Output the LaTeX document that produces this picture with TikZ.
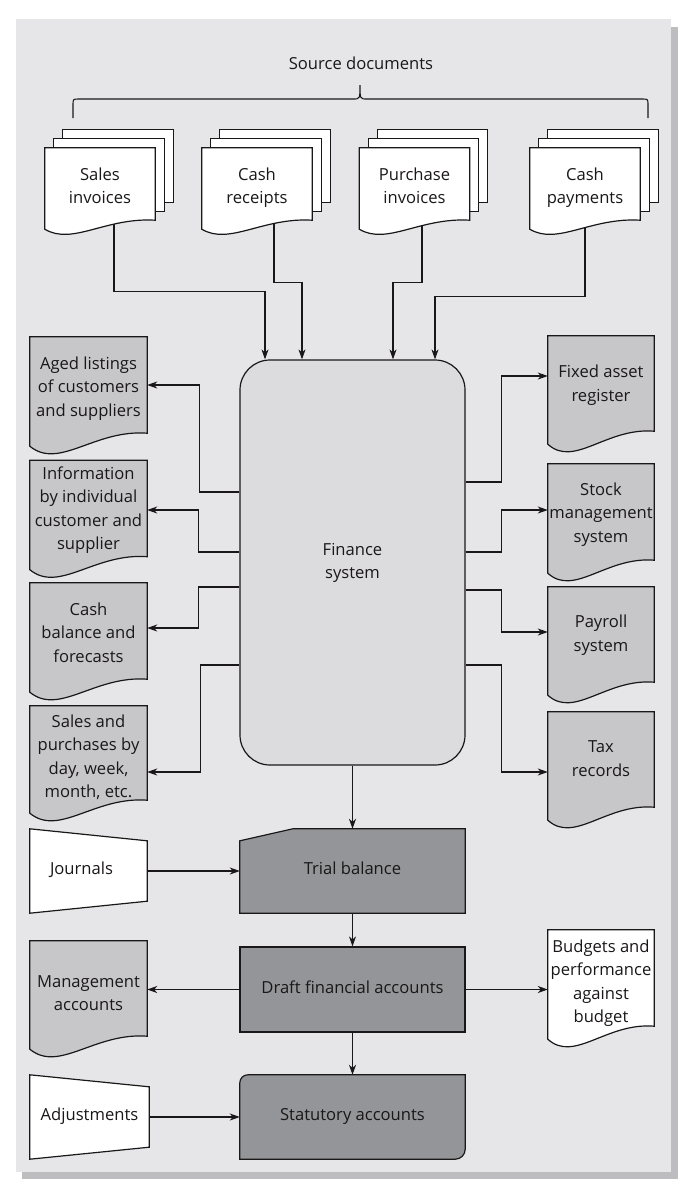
\documentclass[tikz,border=0pt]{standalone}
\usepackage{fontspec}
\setmainfont{Open Sans}
\usetikzlibrary{positioning, calc, arrows.meta, backgrounds}
\definecolor{Ink}{HTML}{1A1718}
\definecolor{PanelGrey}{HTML}{E6E6E8}
\definecolor{ShadowGrey}{HTML}{BDBDBF}
\definecolor{FinGrey}{HTML}{DCDCDE}
\definecolor{DocGrey}{HTML}{C7C7C9}
\definecolor{DarkGrey}{HTML}{949598}

% lines of a label, set a little lower than the box centre
\newcommand{\doctext}[2][3pt]{\raisebox{-#1}[\height][\depth]{\begin{tabular}{@{}c@{}}#2\end{tabular}}}

\tikzset{
  lbl/.style={font=\fontsize{16.6}{23.5}\selectfont, text=Ink, align=center, inner sep=0pt},
  srcdoc/.style={lbl, minimum width=110pt, minimum height=72pt},
  outdoc/.style={lbl, minimum width=117pt, minimum height=96pt},
  rdoc/.style={outdoc, minimum width=106pt},
  procbox/.style={lbl, minimum width=225pt, minimum height=84pt},
  outline/.style={draw=Ink, line width=1.2pt},
  wire/.style={draw=Ink, line width=1.1pt},
  arr/.style={wire, -{Stealth[length=10pt, width=7pt, inset=3pt]}},
}

\begin{document}
\begin{tikzpicture}[x=1pt, y=-1pt]
\useasboundingbox (0,0) rectangle (690,1192);

% source documents
\node[lbl] (srclabel) at (361,63) {Source documents};
\node[srcdoc] (sales) at (100,184) {\doctext[3.5pt]{Sales\\invoices}};
\node[srcdoc] (cashrec) at (257,184) {\doctext[3.5pt]{Cash\\receipts}};
\node[srcdoc] (purinv) at (414.5,184) {\doctext[3.5pt]{Purchase\\invoices}};
\node[srcdoc] (cashpay) at (585,184) {\doctext[3.5pt]{Cash\\payments}};

% main system
\node[lbl, draw=Ink, line width=1.2pt, fill=FinGrey, rounded corners=30pt,
      minimum width=225pt, minimum height=405pt] (fin) at (352.5,562.5) {\doctext[0pt]{Finance\\system}};

% reports on the left
\node[outdoc] (aged) at (88.5,385) {\doctext{Aged listings\\of customers\\and suppliers}};
\node[outdoc] (info) at (88.5,508.5) {\doctext[1.5pt]{Information\\by individual\\customer and\\supplier}};
\node[outdoc] (cashbal) at (88.5,631) {\doctext{Cash\\balance and\\forecasts}};
\node[outdoc, minimum height=94pt] (salespur) at (88.5,753) {\doctext[5pt]{Sales and\\purchases by\\day, week,\\month, etc.}};

% reports on the right
\node[rdoc, minimum height=95pt] (fixed) at (601,383.5) {\doctext[1.5pt]{Fixed asset\\register}};
\node[rdoc] (stock) at (601,512) {\doctext[2pt]{Stock\\management\\system}};
\node[rdoc, minimum height=95pt] (payroll) at (601,634.5) {\doctext[0.5pt]{Payroll\\system}};
\node[rdoc, minimum height=95pt] (tax) at (601,759.5) {\doctext[0.5pt]{Tax\\records}};

% accounts
\node[procbox] (trial) at (352.5,871) {\doctext[-1pt]{Trial balance}};
\node[procbox, draw=Ink, line width=1.2pt, fill=DarkGrey, minimum height=85pt] (draft) at (352.5,989.5) {\doctext[-1pt]{Draft financial accounts}};
\node[procbox] (stat) at (352.5,1117) {\doctext[-1pt]{Statutory accounts}};
\node[lbl, minimum width=117pt, minimum height=84pt] (journals) at (88.5,871) {\doctext[-1pt]{\hspace*{-14pt}Journals}};
\node[lbl, minimum width=119pt, minimum height=84pt] (adjust) at (89.5,1117) {\doctext[-1pt]{Adjustments}};
\node[outdoc, minimum height=95pt] (mgmt) at (88.5,988.5) {\doctext[6pt]{Management\\accounts}};
\node[rdoc] (budgets) at (601,978) {\doctext[5pt]{Budgets and\\performance\\against\\budget}};

\begin{scope}[on background layer]
  \fill[white] (0,0) rectangle (690,1192);
  \fill[ShadowGrey] (22,27) rectangle (678,1179);
  \fill[PanelGrey] (16,19) rectangle (671,1172);

  % brace
  \draw[wire] (73,118) -- (73,105) .. controls (73,99) .. (79,99) -- (353,99)
    .. controls (360,99) .. (360,85) .. controls (360,99) .. (367,99) -- (642,99)
    .. controls (648,99) .. (648,105) -- (648,118);

  % inputs
  \draw[arr] ([xshift=14pt]sales.south) -- ++(0,71) -| ([xshift=-87.5pt]fin.north);
  \draw[arr] ([xshift=17pt]cashrec.south) -- ++(0,62) -| ([xshift=-50.5pt]fin.north);
  \draw[arr] ([xshift=7.5pt]purinv.south) -- ++(0,62) -| ([xshift=40.5pt]fin.north);
  \draw[arr] (cashpay.south) -- ++(0,76) -| ([xshift=82.5pt]fin.north);

  % outputs
  \draw[arr] ([yshift=70.5pt]fin.west) -- ++(-40,0) |- (aged.east);
  \draw[arr] ([yshift=10.5pt]fin.west) -- ++(-41,0) |- ([yshift=-1.5pt]info.east);
  \draw[arr] ([yshift=-24.5pt]fin.west) -- ++(-41,0) |- ([yshift=3pt]cashbal.east);
  \draw[arr] ([yshift=-102.5pt]fin.west) -- ++(-39,0) |- ([yshift=-19pt]salespur.east);
  \draw[arr] ([yshift=80.5pt]fin.east) -- ++(36,0) |- ([yshift=7.5pt]fixed.west);
  \draw[arr] ([yshift=10.5pt]fin.east) -- ++(36,0) |- ([yshift=2pt]stock.west);
  \draw[arr] ([yshift=-27.5pt]fin.east) -- ++(36,0) |- ([yshift=2.5pt]payroll.west);
  \draw[arr] ([yshift=-102.5pt]fin.east) -- ++(36,0) |- ([yshift=-12.5pt]tax.west);

  \draw[arr] (fin.south) -- (trial.north);
  \draw[arr] (journals.east) -- (trial.west);
  \draw[arr] (trial.south) -- (draft.north);
  \draw[arr] (draft.west) -- (draft.west -| mgmt.east);
  \draw[arr] (draft.east) -- (draft.east -| budgets.west);
  \draw[arr] (draft.south) -- (stat.north);
  \draw[arr] (adjust.east) -- (stat.west);

  % stacked source documents
  \foreach \n in {sales, cashrec, purinv, cashpay} {
    \foreach \o in {18, 9}
      \draw[outline, fill=white] ([shift={(\o,-\o)}]\n.north west) rectangle ([shift={(\o,-\o)}]\n.south east);
    \draw[outline, fill=white] (\n.south east) -- (\n.north east) -- (\n.north west) -- ($(\n.south west)+(0,9)$)
      .. controls ($(\n.south west)!0.25!(\n.south east)+(0,25.5)$) and ($(\n.south west)!0.55!(\n.south east)+(0,-3)$) .. (\n.south east) -- cycle;
  }

  % report documents
  \foreach \n/\f in {aged/DocGrey, info/DocGrey, cashbal/DocGrey, salespur/DocGrey, fixed/DocGrey,
                     stock/DocGrey, payroll/DocGrey, tax/DocGrey, mgmt/DocGrey, budgets/white}
    \draw[outline, fill=\f] (\n.south east) -- (\n.north east) -- (\n.north west) -- ($(\n.south west)+(0,13)$)
      .. controls ($(\n.south west)!0.25!(\n.south east)+(0,37)$) and ($(\n.south west)!0.55!(\n.south east)+(0,-4)$) .. (\n.south east) -- cycle;

  % manual inputs
  \foreach \n in {journals, adjust}
    \draw[outline, fill=white] (\n.north west) -- ([yshift=-12pt]\n.north east) -- ([yshift=12pt]\n.south east) -- (\n.south west) -- cycle;

  \draw[outline, fill=DarkGrey] ([xshift=53pt]trial.north west) -- (trial.north east) -- (trial.south east)
    -- (trial.south west) -- ([yshift=-12pt]trial.north west) -- cycle;
  \draw[outline, fill=DarkGrey] (stat.south west) -- ([yshift=-8pt]stat.north west) arc[start angle=180, end angle=90, radius=8pt]
    -- (stat.north east) -- ([yshift=10pt]stat.south east) arc[start angle=0, end angle=-90, radius=10pt] -- cycle;
\end{scope}
\end{tikzpicture}
\end{document}
